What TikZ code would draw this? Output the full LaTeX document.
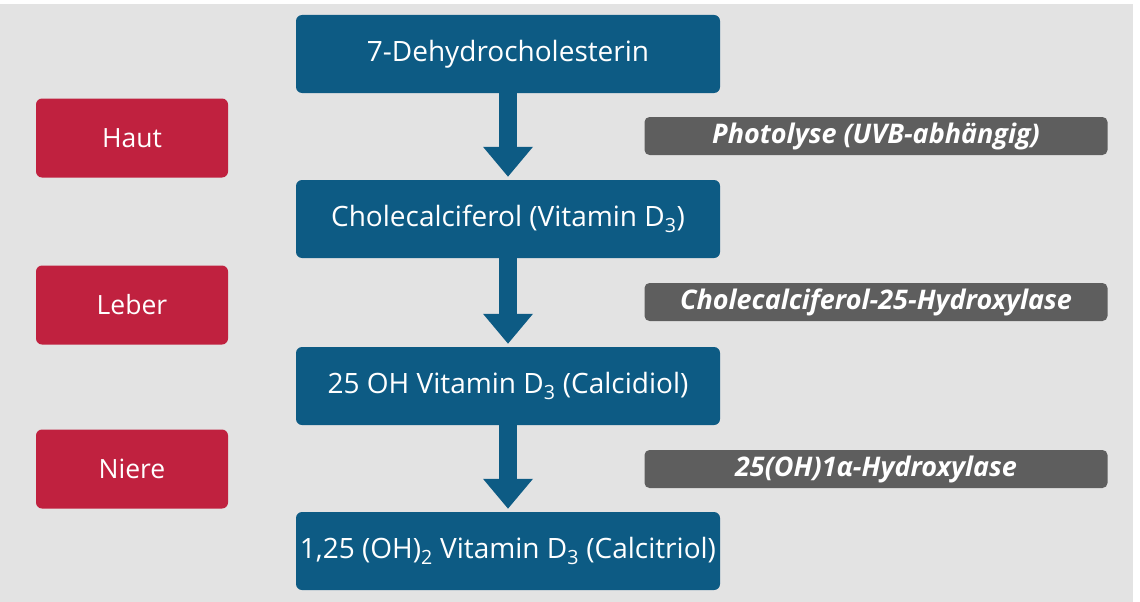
\documentclass[tikz,border=0pt]{standalone}
\usepackage{fontspec}
\setmainfont{Open Sans}
\usetikzlibrary{arrows.meta}
\definecolor{bg}{HTML}{E3E3E3}
\definecolor{blu}{HTML}{0D5B84}
\definecolor{rd}{HTML}{C0213F}
\definecolor{gry}{HTML}{5E5E5E}
\tikzset{
  stepbox/.style={fill=blu, text=white, rounded corners=6pt, minimum width=424pt, minimum height=78pt, inner sep=0pt, font=\fontsize{28}{32}\selectfont},
  organ/.style={fill=rd, text=white, rounded corners=6pt, minimum width=192pt, minimum height=79pt, inner sep=0pt, font=\fontsize{26.5}{30}\selectfont},
  enzyme/.style={fill=gry, text=white, rounded corners=5pt, minimum width=463pt, minimum height=38pt, inner sep=0pt, font=\fontsize{27}{30}\selectfont\bfseries\itshape},
  flow/.style={draw=blu, line width=18pt, -{Triangle[width=48pt,length=30pt]}, shorten >=3pt},
}
\begin{document}
\begin{tikzpicture}[x=1pt,y=-1pt]
\useasboundingbox (0,0) rectangle (1140,602);
\fill[white] (0,0) rectangle (1140,602);
\fill[bg] (0,4) rectangle (1133,602);
\node[stepbox] (s1) at (508,54) {7-Dehydrocholesterin};
\node[stepbox] (s2) at (508,219) {Cholecalciferol (Vitamin D\textsubscript{3})};
\node[stepbox] (s3) at (508,386) {25 OH Vitamin D\textsubscript{3} (Calcidiol)};
\node[stepbox] (s4) at (508,551) {1,25 (OH)\textsubscript{2} Vitamin D\textsubscript{3} (Calcitriol)};
\node[organ] (o1) at (132,138) {Haut};
\node[organ] (o2) at (132,305) {Leber};
\node[organ] (o3) at (132,469) {Niere};
\node[enzyme] (e1) at (876,136) {Photolyse (UVB-abhängig)};
\node[enzyme] (e2) at (876,302) {Cholecalciferol-25-Hydroxylase};
\node[enzyme] (e3) at (876,469) {25(OH)1α-Hydroxylase};
\draw[flow] ([yshift=5pt]s1.south) -- (s2.north);
\draw[flow] ([yshift=5pt]s2.south) -- (s3.north);
\draw[flow] ([yshift=5pt]s3.south) -- (s4.north);
\end{tikzpicture}
\end{document}
